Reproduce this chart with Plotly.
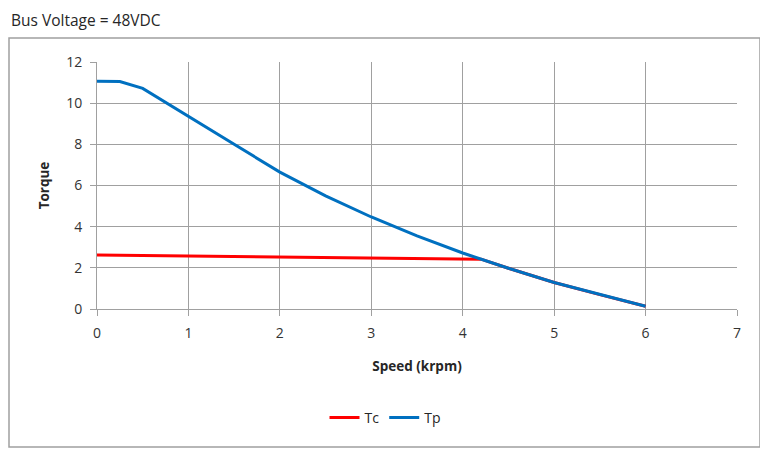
import plotly.graph_objects as go

speed_tp = [0, 0.25, 0.5, 0.75, 1, 1.5, 2, 2.5, 3, 3.5, 4, 4.5, 5, 5.5, 6]
tp = [11.07, 11.05, 10.72, 10.05, 9.37, 8.0, 6.65, 5.5, 4.47, 3.55, 2.72, 1.98, 1.29, 0.7, 0.13]

speed_tc = [0, 1, 2, 3, 4, 4.2, 4.5, 5, 5.5, 6]
tc = [2.62, 2.58, 2.54, 2.5, 2.46, 2.42, 1.98, 1.29, 0.7, 0.13]

x_ticks = [0, 1, 2, 3, 4, 5, 6, 7]
y_ticks = [0, 2, 4, 6, 8, 10, 12]

title_text = "Bus Voltage = 48VDC"
font_family = "Open Sans, Liberation Sans, sans-serif"

fig = go.Figure()
fig.add_trace(go.Scatter(x=speed_tc, y=tc, mode="lines", name="Tc",
                         line=dict(color="#FF0000", width=3)))
fig.add_trace(go.Scatter(x=speed_tp, y=tp, mode="lines", name="Tp",
                         line=dict(color="#0070C0", width=3)))

axis_common = dict(showgrid=True, gridcolor="#A0A0A0", gridwidth=1,
                   showline=True, linecolor="#A0A0A0", linewidth=1,
                   ticks="outside", ticklen=6, tickcolor="#A0A0A0",
                   ticklabelstandoff=5,
                   tickfont=dict(size=14, color="#333333", family=font_family),
                   zeroline=False)

fig.update_xaxes(range=[0, 7], tickvals=x_ticks,
                 title=dict(text="<b>Speed (krpm)</b>", standoff=20,
                            font=dict(size=13.5, color="#262626", family=font_family)),
                 **axis_common)
fig.update_yaxes(range=[0, 12], tickvals=y_ticks,
                 title=dict(text="<b>Torque</b>", standoff=13,
                            font=dict(size=13.5, color="#262626", family=font_family)),
                 **axis_common)

# page has an 8px body margin: figure origin sits at screen (8, 8)
OFF = 8
W, H = 768 - OFF, 452 - OFF
L_S, R_S, T_S, B_S = 97, 737, 62, 309  # plot area in screen px
l, t = L_S - OFF, T_S - OFF
r = W - (R_S - OFF)
b = H - (B_S - OFF)
pw, ph = R_S - L_S, B_S - T_S

def px_x(p):
    return (p - L_S) / pw

def px_y(p):
    return (B_S - p) / ph

fig.add_shape(type="rect", xref="paper", yref="paper",
              x0=px_x(9), x1=px_x(760), y0=px_y(447), y1=px_y(38),
              line=dict(color="#A0A0A0", width=1.5), fillcolor="rgba(0,0,0,0)",
              layer="below")

fig.add_annotation(text=title_text, xref="paper", yref="paper",
                   x=px_x(9), y=px_y(20), xanchor="left", yanchor="middle",
                   showarrow=False,
                   font=dict(size=15.5, color="#262626", family=font_family))

fig.update_layout(
    width=W, height=H,
    margin=dict(l=l, r=r, t=t, b=b),
    paper_bgcolor="white", plot_bgcolor="white",
    font=dict(family=font_family),
    showlegend=True,
    legend=dict(orientation="h", x=px_x(385), y=px_y(418), xanchor="center",
                yanchor="middle", font=dict(size=14, color="#262626", family=font_family),
                bgcolor="rgba(0,0,0,0)"),
)

fig.write_html("out.html")
